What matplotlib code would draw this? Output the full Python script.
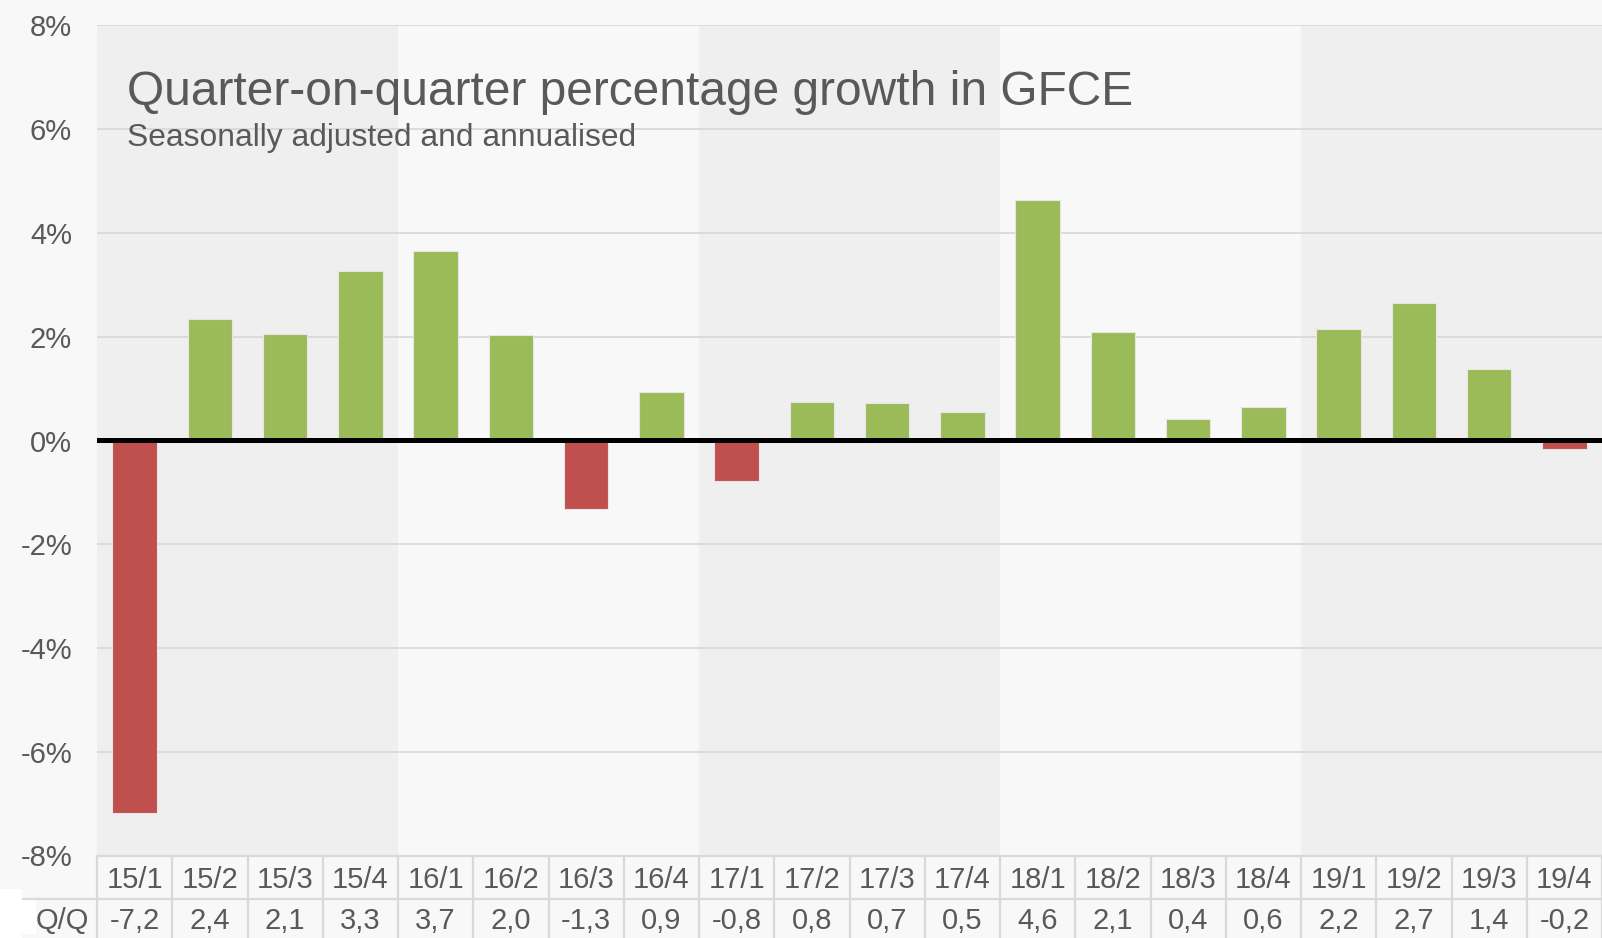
import matplotlib.pyplot as plt
from matplotlib.patches import Rectangle

# quarter-on-quarter GFCE growth, % (annualised)
quarters = ['15/1', '15/2', '15/3', '15/4', '16/1', '16/2', '16/3', '16/4',
            '17/1', '17/2', '17/3', '17/4', '18/1', '18/2', '18/3', '18/4',
            '19/1', '19/2', '19/3', '19/4']
growth = [-7.19, 2.34, 2.05, 3.27, 3.66, 2.03, -1.32, 0.93,
          -0.79, 0.75, 0.73, 0.55, 4.63, 2.10, 0.41, 0.65,
          2.15, 2.66, 1.38, -0.16]
table_values = ['-7,2', '2,4', '2,1', '3,3', '3,7', '2,0', '-1,3', '0,9',
                '-0,8', '0,8', '0,7', '0,5', '4,6', '2,1', '0,4', '0,6',
                '2,2', '2,7', '1,4', '-0,2']
row_label = 'Q/Q'
years = [2015, 2016, 2017, 2018, 2019]
yticks = [-8, -6, -4, -2, 0, 2, 4, 6, 8]


def main():
    plt.rcParams['font.family'] = ['Liberation Sans', 'DejaVu Sans']
    bg = '#f8f8f8'
    band = '#efefef'
    grid = '#d9d9d9'
    txt = '#595959'
    green = '#9bbb59'
    red = '#c0504d'

    W, H = 1602, 938
    fig = plt.figure(figsize=(W / 100, H / 100), dpi=100, facecolor=bg)

    left, right = 97, 1602
    top, bottom = 25.5, 855.5
    ax = fig.add_axes([left / W, 1 - bottom / H, (right - left) / W, (bottom - top) / H])
    ax.set_facecolor(bg)
    n = len(quarters)
    ax.set_xlim(-0.5, n - 0.5)
    ax.set_ylim(-8, 8)

    # year bands
    for i, y in enumerate(years):
        if i % 2 == 0:
            ax.axvspan(i * 4 - 0.5, i * 4 + 3.5, color=band, lw=0, zorder=0)

    for t in yticks:
        if t != 0:
            ax.axhline(t, color=grid, lw=1.3, zorder=1)

    x = list(range(n))
    colors = [green if v >= 0 else red for v in growth]
    ax.bar(x, growth, width=0.59, color=colors, edgecolor='#e6e6e6', lw=0.8, zorder=2)
    ax.axhline(0, color='black', lw=3.6, zorder=3)

    ax.set_yticks(yticks)
    ax.set_yticklabels([f'{t}%' for t in yticks], fontsize=21, color=txt)
    ax.tick_params(axis='y', length=0, pad=18)
    ax.set_xticks([])
    for s in ax.spines.values():
        s.set_visible(False)

    fig.text(127 / W, 1 - 105 / H, 'Quarter-on-quarter percentage growth in GFCE',
             fontsize=34.5, color=txt, va='baseline')
    fig.text(127 / W, 1 - 146 / H, 'Seasonally adjusted and annualised',
             fontsize=22.9, color=txt, va='baseline')

    # white specks in the bottom-left corner of the original
    fig.patches.append(Rectangle((0, 0), 22 / W, 49 / H, transform=fig.transFigure,
                                 color='white', lw=0, zorder=0))
    fig.patches.append(Rectangle((6 / W, 4 / H), 30 / W, 34 / H, transform=fig.transFigure,
                                 color='white', lw=0, zorder=0))

    # data table under the chart
    row_h = 43
    tax = fig.add_axes([left / W, 0, (right - left) / W, (H - 856) / H])
    tax.set_xlim(-0.5, n - 0.5)
    tax.set_ylim(1 - (H - 856) / row_h, 1)
    tax.axis('off')
    tax.patch.set_alpha(0)
    lk = dict(color=grid, lw=1.6, clip_on=False)
    qq_left = -0.5 - (left - 5) / ((right - left) / n)
    tax.plot([-0.5, n - 0.5], [1, 1], **lk)
    tax.plot([qq_left, n - 0.5], [0, 0], **lk)
    for k in range(n + 1):
        tax.plot([k - 0.5, k - 0.5], [-1, 1], **lk)
    tax.plot([qq_left, qq_left], [-1, 0], **lk)
    for i in range(n):
        tax.text(i, 0.45, quarters[i], ha='center', va='center', fontsize=21, color=txt)
        tax.text(i, -0.52, table_values[i], ha='center', va='center', fontsize=21, color=txt)
    tax.text(-0.5 - 0.1, -0.52, row_label, ha='right', va='center', fontsize=21, color=txt)

    plt.savefig('out.png', dpi=100, facecolor=bg)


if __name__ == '__main__':
    main()
